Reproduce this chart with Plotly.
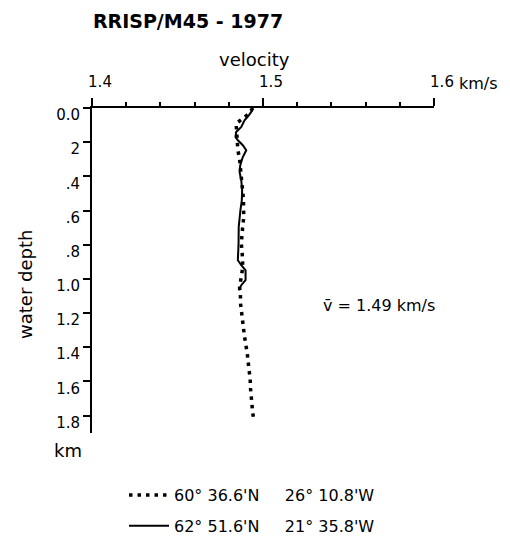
import plotly.graph_objects as go

# ---------------- data ----------------
title_text = "RRISP/M45 - 1977"
x_tick_vals = [1.4, 1.5, 1.6]
x_tick_text = ["1.4", "1.5", "1.6"]
y_tick_vals = [0.0, 0.2, 0.4, 0.6, 0.8, 1.0, 1.2, 1.4, 1.6, 1.8]
y_tick_text = ["0.0", "2", ".4", ".6", ".8", "1.0", "1.2", "1.4", "1.6", "1.8"]

# station 60° 36.6'N 26° 10.8'W (dotted)
dot_depth = [0.000, 0.031, 0.091, 0.247, 0.296, 0.394, 0.433, 0.481, 0.540, 0.588,
             0.637, 0.686, 0.734, 0.793, 0.842, 0.891, 0.930, 0.988, 1.050, 1.095,
             1.140, 1.189, 1.242, 1.290, 1.339, 1.388, 1.436, 1.485, 1.534, 1.587,
             1.641, 1.690, 1.739, 1.787, 1.836]
dot_vel = [1.4940, 1.4921, 1.4843, 1.4853, 1.4863, 1.4873, 1.4878, 1.4882, 1.4886, 1.4886,
           1.4888, 1.4882, 1.4878, 1.4873, 1.4878, 1.4878, 1.4882, 1.4873, 1.4863, 1.4868,
           1.4868, 1.4874, 1.4878, 1.4886, 1.4892, 1.4902, 1.4908, 1.4913, 1.4921, 1.4925,
           1.4927, 1.4931, 1.4937, 1.4940, 1.4949]

# station 62° 51.6'N 21° 35.8'W (solid)
line_depth = [0.000, 0.023, 0.043, 0.072, 0.111, 0.140, 0.170, 0.189, 0.218, 0.247,
              0.287, 0.335, 0.374, 0.423, 0.481, 0.540, 0.598, 0.696, 0.793, 0.891,
              0.920, 0.950, 1.008, 1.037, 1.066]
line_vel = [1.4940, 1.4931, 1.4917, 1.4892, 1.4873, 1.4843, 1.4839, 1.4853, 1.4882, 1.4902,
            1.4882, 1.4867, 1.4863, 1.4873, 1.4878, 1.4876, 1.4868, 1.4858, 1.4857, 1.4853,
            1.4873, 1.4898, 1.4898, 1.4873, 1.4857]

NB = "\u00a0"
legend_names = [
    "60°" + NB + "36.6'N" + NB * 5 + "26°" + NB + "10.8'W",
    "62°" + NB + "51.6'N" + NB * 5 + "21°" + NB + "35.8'W",
]
mean_velocity = 1.49

FONT = "DejaVu Sans"

fig = go.Figure()
fig.add_trace(go.Scatter(
    x=dot_vel, y=dot_depth, mode="lines", name=legend_names[0],
    line=dict(color="black", width=3.5, dash="3.5px,5px"),
    legendgroup="a",
))
fig.add_trace(go.Scatter(
    x=line_vel, y=line_depth, mode="lines", name=legend_names[1],
    line=dict(color="black", width=2),
    legendgroup="b",
))

fig.update_layout(
    width=510, height=540,
    margin=dict(l=92, r=76, t=108, b=107, autoexpand=False),
    paper_bgcolor="white", plot_bgcolor="white",
    font=dict(family=FONT, color="black", size=15),
    title=dict(text=title_text, xref="container", yref="container",
               x=188 / 510, xanchor="center", y=1 - 21 / 540, yanchor="middle",
               font=dict(family=FONT, size=19, color="black", weight="bold")),
    showlegend=True,
    legend=dict(x=(124 - 92) / 342, xanchor="left", y=(433 - 478) / 325, yanchor="top",
                font=dict(family=FONT, size=16, color="black"),
                traceorder="grouped", tracegroupgap=7, itemwidth=40,
                bgcolor="rgba(0,0,0,0)"),
    xaxis=dict(range=[1.4, 1.6], side="top", showline=True, linecolor="black", linewidth=2,
               showgrid=False, zeroline=False, automargin=False,
               tickmode="array", tickvals=x_tick_vals, ticktext=x_tick_text,
               ticks="outside", ticklen=8, tickwidth=1.5, tickcolor="black",
               minor=dict(dtick=0.02, tick0=1.4, ticks="outside", ticklen=4,
                          tickwidth=1.5, tickcolor="black", showgrid=False),
               tickfont=dict(family=FONT, size=15),
               ticklabelshift=8, ticklabelstandoff=5),
    yaxis=dict(range=[1.902, 0], showline=True, linecolor="black", linewidth=2,
               showgrid=False, zeroline=False, automargin=False,
               tickmode="array", tickvals=y_tick_vals, ticktext=y_tick_text,
               ticks="outside", ticklen=7, tickwidth=1.5, tickcolor="black",
               tickfont=dict(family=FONT, size=15),
               ticklabelshift=-7),
)

fig.add_annotation(text="velocity", xref="paper", yref="paper",
                   x=(254 - 92) / 342, y=(433 - 60) / 325, showarrow=False,
                   xanchor="center", yanchor="middle", font=dict(size=18))
fig.add_annotation(text="km/s", xref="paper", yref="paper",
                   x=(457 - 92) / 342, y=(433 - 84) / 325, showarrow=False,
                   xanchor="left", yanchor="middle", font=dict(size=16))
fig.add_annotation(text="water depth", xref="paper", yref="paper",
                   x=(25 - 92) / 342, y=(433 - 285) / 325, showarrow=False,
                   textangle=-90, xanchor="center", yanchor="middle", font=dict(size=18))
fig.add_annotation(text="km", xref="paper", yref="paper",
                   x=(68 - 92) / 342, y=(433 - 450) / 325, showarrow=False,
                   xanchor="center", yanchor="middle", font=dict(size=18))
fig.add_annotation(text="v\u0304 = %.2f km/s" % mean_velocity, xref="paper", yref="paper",
                   x=(321 - 92) / 342, y=(433 - 305) / 325, showarrow=False,
                   xanchor="left", yanchor="middle", font=dict(size=16))

fig.write_html("out.html")
